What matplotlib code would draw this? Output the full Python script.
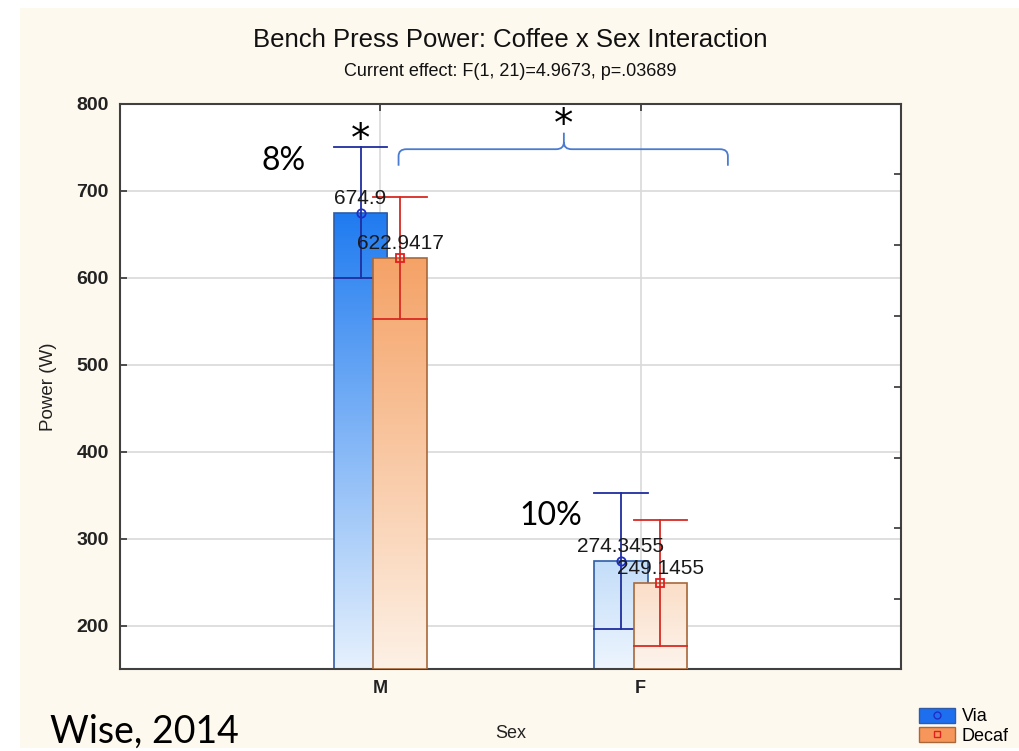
import numpy as np
import matplotlib
matplotlib.use("Agg")
from matplotlib import pyplot as plt
from matplotlib.colors import LinearSegmentedColormap
from matplotlib.patches import Rectangle, Patch
from matplotlib.path import Path
from matplotlib.patches import PathPatch
from matplotlib.lines import Line2D

plt.rcParams['font.family'] = ['Liberation Sans', 'DejaVu Sans']

# data
sexes = ['M', 'F']
via_mean = [674.9, 274.3455]
via_ci = [75.3, 78.0]
decaf_mean = [622.9417, 249.1455]
decaf_ci = [70.2, 72.6]
via_labels = ['674.9', '274.3455']
decaf_labels = ['622.9417', '249.1455']
yticks = [200, 300, 400, 500, 600, 700, 800]
right_ticks = [719.4, 637.7, 556.0, 474.3, 392.6, 312.1, 230.4]

# gradient colours per bar (top, bottom)
via_top = ['#1F7BF0', '#C3DDF9']
via_bot = ['#E6F1FD', '#EDF5FE']
decaf_top = ['#F5A266', '#FBDEC8']
decaf_bot = ['#FDF1E6', '#FDF4EC']

ymin, ymax = 150, 800
width = 0.205
off = 0.076

fig = plt.figure(figsize=(10.2, 7.51), dpi=100, facecolor='white')
# cream background panel
fig.patches.append(Rectangle((20 / 1020, 3 / 751), 1 - 20 / 1020, 1 - 11 / 751,
                             transform=fig.transFigure, facecolor='#FEF9EE',
                             edgecolor='none', zorder=-10))

ax = fig.add_axes([120 / 1020, 82 / 751, 781 / 1020, 565 / 751])
ax.set_facecolor('white')
x = np.arange(len(sexes))


def grad_bar(xc, top, bottom_val, c_top, c_bot, edge, z):
    cmap = LinearSegmentedColormap.from_list('g', [c_bot, c_top])
    g = np.linspace(0, 1, 256).reshape(-1, 1)
    x0 = xc - width / 2
    im = ax.imshow(g, cmap=cmap, origin='lower', aspect='auto',
                   extent=(x0, x0 + width, bottom_val, top), zorder=z,
                   interpolation='bilinear')
    rect = Rectangle((x0, bottom_val), width, top - bottom_val,
                     facecolor='none', edgecolor=edge, lw=1.2, zorder=z + 0.1)
    ax.add_patch(rect)
    im.set_clip_path(rect)


for i in range(len(sexes)):
    xv = x[i] - off
    xd = x[i] + off
    # via bar
    grad_bar(xv, via_mean[i], ymin, via_top[i], via_bot[i], '#2E5CA8', 2)
    ax.plot([xv - width / 2, xv + width / 2], [via_mean[i] - via_ci[i]] * 2,
            color='#1F2E9E', lw=1.3, zorder=2.2)
    # decaf bar
    grad_bar(xd, decaf_mean[i], ymin, decaf_top[i], decaf_bot[i], '#A8683A', 3)
    ax.plot([xd - width / 2, xd + width / 2], [decaf_mean[i] - decaf_ci[i]] * 2,
            color='#D82A22', lw=1.3, zorder=3.2)

# error bars
for i in range(len(sexes)):
    xv = x[i] - off
    xd = x[i] + off
    ax.plot([xv, xv], [via_mean[i] - via_ci[i], via_mean[i] + via_ci[i]],
            color='#1F2E9E', lw=1.3, zorder=5)
    ax.plot([xv - width / 2, xv + width / 2], [via_mean[i] + via_ci[i]] * 2,
            color='#1F2E9E', lw=1.3, zorder=5)
    ax.plot([xd, xd], [decaf_mean[i] - decaf_ci[i], decaf_mean[i] + decaf_ci[i]],
            color='#D82A22', lw=1.3, zorder=5)
    ax.plot([xd - width / 2, xd + width / 2], [decaf_mean[i] + decaf_ci[i]] * 2,
            color='#D82A22', lw=1.3, zorder=5)
    ax.plot(xv, via_mean[i], 'o', ms=6, mfc='none', mec='#1F2EC8', mew=1.3, zorder=6)
    ax.plot(xd, decaf_mean[i], 's', ms=6, mfc='none', mec='#E02020', mew=1.3, zorder=6)
    ax.annotate(via_labels[i], (xv, via_mean[i]), xytext=(0, 14),
                textcoords='offset pixels', ha='center', va='center',
                fontsize=15, color='#1A1A1A', zorder=7)
    ax.annotate(decaf_labels[i], (xd, decaf_mean[i]), xytext=(0, 14),
                textcoords='offset pixels', ha='center', va='center',
                fontsize=15, color='#1A1A1A', zorder=7)

ax.set_xlim(-1, 2)
ax.set_ylim(ymin, ymax)
ax.set_xticks(x)
ax.set_xticklabels(sexes, fontsize=13, fontweight='bold', color='#222222')
ax.set_yticks(yticks)
ax.set_yticklabels([str(t) for t in yticks], fontsize=14, fontweight='bold',
                   color='#222222')
ax.tick_params(axis='both', direction='in', length=5, width=1.2, color='#333333',
               top=True, pad=8)
ax.grid(True, color='#D9D9D9', lw=1.2, zorder=0)
ax.set_axisbelow(True)
for s in ax.spines.values():
    s.set_color('#404040')
    s.set_linewidth(1.5)

ax2 = ax.twinx()
ax2.set_ylim(ymin, ymax)
ax2.set_yticks(right_ticks)
ax2.set_yticklabels([])
ax2.tick_params(axis='y', direction='in', length=5, width=1.2, color='#333333')
for s in ax2.spines.values():
    s.set_visible(False)

ax.set_ylabel('Power (W)', fontsize=13.5, color='#222222', labelpad=14)
ax.set_xlabel('Sex', fontsize=13, color='#222222', labelpad=20)

fig.text(0.5, 1 - 40 / 751, 'Bench Press Power: Coffee x Sex Interaction',
         ha='center', va='center', fontsize=18.5, color='#111111')
fig.text(0.5, 1 - 72 / 751, 'Current effect: F(1, 21)=4.9673, p=.03689',
         ha='center', va='center', fontsize=13, color='#111111')

# annotations
ax.text(-off, 759, '*', ha='center', va='center', fontsize=28, color='black',
        fontfamily='DejaVu Sans')
ax.text(-0.37, 735, '8%', ha='center', va='center', fontsize=23, color='black',
        fontfamily='Lato')
ax.text(0.654, 326, '10%', ha='center', va='center', fontsize=23, color='black',
        fontfamily='Lato')
ax.text(0.705, 776, '*', ha='center', va='center', fontsize=28, color='black',
        fontfamily='DejaVu Sans')

# curly brace
bx0, bx1, bxm = 0.07, 1.335, 0.705
by_end, by_mid, by_tip = 729, 748, 767
r = 0.03
ry = 8
verts = [(bx0, by_end), (bx0, by_mid - ry), (bx0, by_mid), (bx0 + r, by_mid),
         (bxm - r, by_mid), (bxm, by_mid), (bxm, by_mid + ry), (bxm, by_tip),
         (bxm, by_mid + ry), (bxm, by_mid), (bxm + r, by_mid),
         (bx1 - r, by_mid), (bx1, by_mid), (bx1, by_mid - ry), (bx1, by_end)]
codes = [Path.MOVETO, Path.LINETO, Path.CURVE3, Path.CURVE3,
         Path.LINETO, Path.CURVE3, Path.CURVE3, Path.LINETO,
         Path.MOVETO, Path.CURVE3, Path.CURVE3,
         Path.LINETO, Path.CURVE3, Path.CURVE3, Path.LINETO]
ax.add_patch(PathPatch(Path(verts, codes), facecolor='none', edgecolor='#4A7BD0',
                       lw=1.3, zorder=8))

fig.text(50 / 1020, 1 - 732 / 751, 'Wise, 2014', ha='left', va='center',
         fontsize=27, color='black', fontfamily='Lato')

# legend
h_via = (Patch(facecolor='#1E6FF0', edgecolor='#2E5CA8'),
         Line2D([], [], marker='o', ls='none', ms=5, mfc='none', mec='#1F2EC8'))
h_dec = (Patch(facecolor='#F7965A', edgecolor='#A8683A'),
         Line2D([], [], marker='s', ls='none', ms=5, mfc='none', mec='#E02020'))
fig.legend([h_via, h_dec], ['Via', 'Decaf'], loc='upper left',
           bbox_to_anchor=(906 / 1020, 1 - 695 / 751), frameon=False,
           fontsize=13, handlelength=2.0, handleheight=0.9, handletextpad=0.4,
           labelspacing=0.1, borderpad=0.2)

fig.savefig('out.png', dpi=100, facecolor='white')
plt.close()
